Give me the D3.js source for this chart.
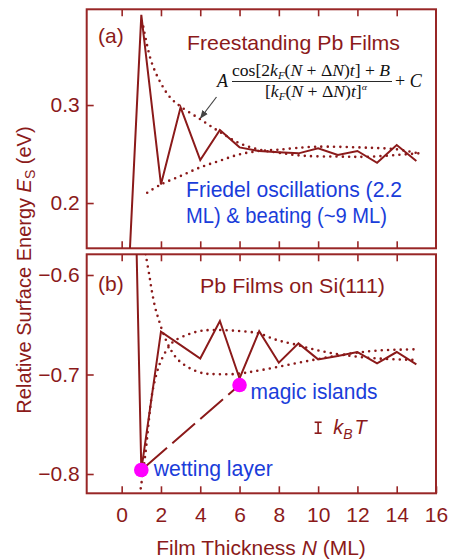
<!DOCTYPE html>
<html><head><meta charset="utf-8">
<script src="https://cdn.jsdelivr.net/npm/d3@7"></script>
<style>
html,body{margin:0;padding:0;background:#fff;}
svg{display:block;font-family:"Liberation Sans",Arial,sans-serif;}
</style></head>
<body><svg id="c" width="449" height="559"></svg>
<script>
// ---------- DATA ----------
const filmN = [0,1,2,3,4,5,6,7,8,9,10,11,12,13,14,15];
const freeEnergy = [-0.02,0.392,0.219,0.2977,0.2439,0.2745,0.2568,0.253,0.2517,0.2507,0.2558,0.249,0.2531,0.2411,0.2592,0.2429];
const siEnergy = [0.12,-0.796,-0.657,-0.6705,-0.684,-0.6462,-0.704,-0.6565,-0.6881,-0.6687,-0.6848,-0.6814,-0.6774,-0.6888,-0.6774,-0.6898];

// fitted envelopes (dotted)
const freeUpperN = [1.1,1.5,2.0,2.5,3.0,4.0,5.0,6.0,7.0,8.0,9.2,11.0,12.6,15.1];
const freeUpperE = [0.380,0.345,0.322,0.307,0.2985,0.2855,0.2725,0.261,0.2545,0.2513,0.2483,0.2474,0.2473,0.2507];
const freeLowerN = [1.3,2.0,3.0,4.0,5.0,6.0,7.0,8.0,9.8,12.6,14.0,15.1];
const freeLowerE = [0.2105,0.219,0.2276,0.2364,0.2432,0.2497,0.2531,0.2545,0.2574,0.2564,0.2548,0.2507];
const siFitAN = [1.22,1.405,1.527,1.695,1.863,2.117,2.458,2.88,3.476,4.15,4.58,5.77,7.12,9.58,11.28,12.98,15.01];
const siFitAE = [-0.579,-0.600,-0.6151,-0.6319,-0.6435,-0.6586,-0.6737,-0.6854,-0.6938,-0.6988,-0.6995,-0.6995,-0.6955,-0.686,-0.680,-0.676,-0.6747];
const siFitBN = [0.97,1.19,1.527,1.695,1.949,2.29,2.626,3.31,3.985,4.58,5.77,6.95,7.89,8.73,9.92,11.28,12.98,15.01];
const siFitBE = [-0.8144,-0.7826,-0.7223,-0.7055,-0.6887,-0.6754,-0.667,-0.6603,-0.6563,-0.6553,-0.656,-0.6586,-0.6653,-0.6693,-0.6754,-0.6804,-0.6838,-0.6854];

const markerN = [1,6];
const markerE = [-0.796,-0.7106];
const markerLabels = ["wetting layer","magic islands"];

const kbtN = 10;
const kbtRange = [-0.759,-0.748];

const xTicks = [0,2,4,6,8,10,12,14,16];
const topTicks = [0.2,0.3];
const botTicks = [-0.6,-0.7,-0.8];

// ---------- STYLE ----------
const RED = "#8b1a1a";
const FRAME = "#982626";
const BLUE = "#1a3dda";
const MAG = "#ff00ff";

const svg = d3.select("#c");
const x = d3.scaleLinear().domain([-1.78,16]).range([86.7,436]);
const yT = d3.scaleLinear().domain([0.1538,0.3977]).range([248.3,9.3]);
const yB = d3.scaleLinear().domain([-0.8194,-0.5792]).range([493.3,254.3]);

const defs = svg.append("defs");
defs.append("clipPath").attr("id","clipT").append("rect")
  .attr("x",x.range()[0]).attr("y",yT.range()[1]).attr("width",x.range()[1]-x.range()[0]).attr("height",yT.range()[0]-yT.range()[1]);
defs.append("clipPath").attr("id","clipB").append("rect")
  .attr("x",x.range()[0]).attr("y",yB.range()[1]).attr("width",x.range()[1]-x.range()[0]).attr("height",yB.range()[0]-yB.range()[1]);
defs.append("marker").attr("id","arr").attr("viewBox","0 0 10 10").attr("refX",9).attr("refY",5)
  .attr("markerWidth",7).attr("markerHeight",7).attr("orient","auto-start-reverse")
  .append("path").attr("d","M0,1 L10,5 L0,9 Z").attr("fill","#444");

function styleAxis(g, labels){
  g.select(".domain").remove();
  g.selectAll(".tick line").attr("stroke",FRAME).attr("stroke-width",1.6);
  g.selectAll(".tick text").attr("fill",RED).attr("font-size",21).attr("font-family","Liberation Sans, Arial, sans-serif");
  if(!labels) g.selectAll(".tick text").remove();
}

function panel(y, clipId, ticksY, showXLabels){
  const [y0,y1] = [y.range()[1], y.range()[0]];
  const gl = svg.append("g").attr("transform",`translate(${x.range()[0]},0)`)
    .call(d3.axisLeft(y).tickValues(ticksY).tickSize(-7).tickPadding(7).tickFormat(d3.format(".1f")));
  styleAxis(gl,true);
  const gt = svg.append("g").attr("transform",`translate(0,${y0})`)
    .call(d3.axisTop(x).tickValues(xTicks.slice(0,-1)).tickSize(-7));
  styleAxis(gt,false);
  const gb = svg.append("g").attr("transform",`translate(0,${y1})`)
    .call(d3.axisBottom(x).tickValues(showXLabels?xTicks:xTicks.slice(0,-1)).tickSize(-7).tickPadding(14).tickFormat(d3.format("d")));
  styleAxis(gb,showXLabels);
  svg.append("rect").attr("x",x.range()[0]).attr("y",y0).attr("width",x.range()[1]-x.range()[0]).attr("height",y1-y0)
    .attr("fill","none").attr("stroke",FRAME).attr("stroke-width",2);
  return svg.append("g").attr("clip-path",`url(#${clipId})`);
}

function dotted(g, y, ns, es){
  const pts = ns.map((n,i)=>[n,es[i]]);
  g.append("path").attr("d",d3.line().x(d=>x(d[0])).y(d=>y(d[1])).curve(d3.curveCatmullRom)(pts))
    .attr("fill","none").attr("stroke",RED).attr("stroke-width",2.6).attr("stroke-linecap","round").attr("stroke-dasharray","0,6.3");
}
function solid(g, y, es){
  const pts = filmN.map((n,i)=>[n,es[i]]);
  g.append("path").attr("d",d3.line().x(d=>x(d[0])).y(d=>y(d[1]))(pts))
    .attr("fill","none").attr("stroke",RED).attr("stroke-width",2).attr("stroke-linejoin","miter");
}

// ---- panel (a)
const gT = panel(yT,"clipT",topTicks,false);
dotted(gT,yT,freeUpperN,freeUpperE);
dotted(gT,yT,freeLowerN,freeLowerE);
solid(gT,yT,freeEnergy);

// ---- panel (b)
const gB = panel(yB,"clipB",botTicks,true);
dotted(gB,yB,siFitAN,siFitAE);
dotted(gB,yB,siFitBN,siFitBE);
solid(gB,yB,siEnergy);
gB.append("line").attr("x1",x(markerN[0])).attr("y1",yB(markerE[0])).attr("x2",x(markerN[1])).attr("y2",yB(markerE[1]))
  .attr("stroke",RED).attr("stroke-width",2).attr("stroke-dasharray","30,7").attr("stroke-dashoffset",-4);
gB.selectAll("circle.m").data(markerN).join("circle").attr("class","m")
  .attr("cx",d=>x(d)).attr("cy",(d,i)=>yB(markerE[i])).attr("r",7.3).attr("fill",MAG);

// kBT bar
const kx = x(kbtN);
svg.append("line").attr("x1",kx).attr("x2",kx).attr("y1",yB(kbtRange[0])).attr("y2",yB(kbtRange[1])).attr("stroke",RED).attr("stroke-width",1.6);
[0,1].forEach(i=>svg.append("line").attr("x1",kx-3.5).attr("x2",kx+3.5).attr("y1",yB(kbtRange[i])).attr("y2",yB(kbtRange[i])).attr("stroke",RED).attr("stroke-width",1.6));
const kt = svg.append("text").attr("x",kx+15).attr("y",yB(kbtRange[0])+1).attr("fill",RED).attr("font-size",20).attr("font-style","italic");
kt.append("tspan").text("k");
kt.append("tspan").attr("font-size",14).attr("dy",5).text("B");
kt.append("tspan").attr("dy",-5).attr("dx",2).text("T");

// ---- texts
function txt(s,xx,yy,col,len,size){
  const t = svg.append("text").attr("x",xx).attr("y",yy).attr("fill",col).attr("font-size",size||21).text(s);
  if(len) t.attr("textLength",len).attr("lengthAdjust","spacingAndGlyphs");
  return t;
}
txt("(a)",98,43,RED,null,21);
txt("Freestanding Pb Films",187,50,RED,213,21);
txt("Friedel oscillations (2.2",186,197,BLUE,216,21.5);
txt("ML) & beating (~9 ML)",186,222.5,BLUE,201,21.5);
txt("(b)",98,291,RED,null,21);
txt("Pb Films on Si(111)",200,292.5,RED,185,21);
txt(markerLabels[1],x(markerN[1])+11,399,BLUE,127,21.5);
txt(markerLabels[0],x(markerN[0])+12.5,476,BLUE,119,21.5);

// formula
const serif = "Liberation Serif, Times New Roman, serif";
svg.append("text").attr("x",217).attr("y",87).attr("font-family",serif).attr("font-size",18).attr("font-style","italic").attr("fill","#111").text("A");
const num = svg.append("text").attr("x",232).attr("y",76).attr("font-family",serif).attr("font-size",16).attr("fill","#111")
  .attr("textLength",158).attr("lengthAdjust","spacingAndGlyphs");
num.append("tspan").text("cos[2");
num.append("tspan").attr("font-style","italic").text("k");
num.append("tspan").attr("font-style","italic").attr("font-size",10).attr("dy",3).text("F");
num.append("tspan").attr("dy",-3).text("(");
num.append("tspan").attr("font-style","italic").text("N");
num.append("tspan").text(" + Δ");
num.append("tspan").attr("font-style","italic").text("N");
num.append("tspan").text(")");
num.append("tspan").attr("font-style","italic").text("t");
num.append("tspan").text("] + ");
num.append("tspan").attr("font-style","italic").text("B");
svg.append("line").attr("x1",232).attr("x2",392).attr("y1",81.5).attr("y2",81.5).attr("stroke","#111").attr("stroke-width",0.9);
const den = svg.append("text").attr("x",265).attr("y",97).attr("font-family",serif).attr("font-size",16).attr("fill","#111")
  .attr("textLength",102).attr("lengthAdjust","spacingAndGlyphs");
den.append("tspan").text("[");
den.append("tspan").attr("font-style","italic").text("k");
den.append("tspan").attr("font-style","italic").attr("font-size",10).attr("dy",3).text("F");
den.append("tspan").attr("dy",-3).text("(");
den.append("tspan").attr("font-style","italic").text("N");
den.append("tspan").text(" + Δ");
den.append("tspan").attr("font-style","italic").text("N");
den.append("tspan").text(")");
den.append("tspan").attr("font-style","italic").text("t");
den.append("tspan").text("]");
den.append("tspan").attr("font-style","italic").attr("font-size",9).attr("dy",-7).text("α");
const pc = svg.append("text").attr("x",395).attr("y",87).attr("font-family",serif).attr("font-size",18).attr("fill","#111");
pc.append("tspan").text("+ ");
pc.append("tspan").attr("font-style","italic").text("C");
svg.append("line").attr("x1",216.5).attr("y1",97).attr("x2",200.5).attr("y2",118)
  .attr("stroke","#444").attr("stroke-width",1.2).attr("marker-end","url(#arr)");

// axis titles
const yl = svg.append("text").attr("transform","translate(31,270) rotate(-90)").attr("text-anchor","middle")
  .attr("fill",RED).attr("font-size",20);
yl.append("tspan").text("Relative Surface Energy ");
yl.append("tspan").attr("font-style","italic").text("E");
yl.append("tspan").attr("font-size",14).attr("dy",4).text("S");
yl.append("tspan").attr("dy",-4).text(" (eV)");
const xl = svg.append("text").attr("x",261).attr("y",555).attr("text-anchor","middle").attr("fill",RED).attr("font-size",21);
xl.append("tspan").text("Film Thickness ");
xl.append("tspan").attr("font-style","italic").text("N");
xl.append("tspan").text(" (ML)");
</script></body></html>
